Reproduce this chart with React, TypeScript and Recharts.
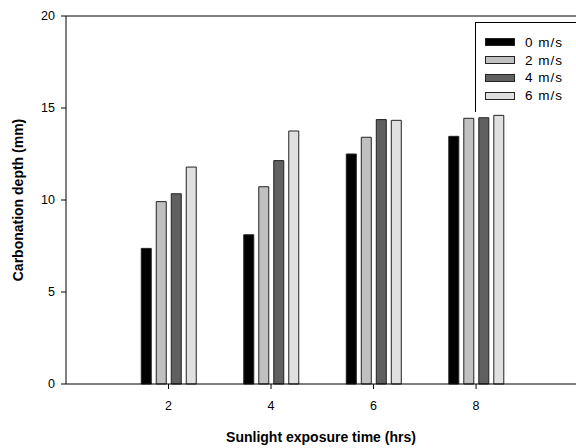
import {
  BarChart,
  Bar,
  XAxis,
  YAxis,
  Legend,
  ReferenceLine,
} from 'recharts';

const hours = [2, 4, 6, 8];
const speed0 = [7.37, 8.11, 12.5, 13.46];
const speed2 = [9.91, 10.72, 13.41, 14.44];
const speed4 = [10.34, 12.14, 14.37, 14.47];
const speed6 = [11.79, 13.75, 14.33, 14.6];
const seriesNames = ['0 m/s', '2 m/s', '4 m/s', '6 m/s'];
const seriesColors = ['#000000', '#c0c0c0', '#606060', '#e0e0e0'];
const yTicks = [0, 5, 10, 15, 20];

const data = hours.map((h, i) => ({
  hours: h,
  s0: speed0[i],
  s2: speed2[i],
  s4: speed4[i],
  s6: speed6[i],
}));

const seriesKeys = ['s0', 's2', 's4', 's6'];
const font = '"Liberation Sans", Arial, sans-serif';

function LegendBox() {
  return (
    <div
      style={{
        borderTop: '1px solid #000',
        borderLeft: '1px solid #000',
        background: '#fff',
        width: 101,
        height: 90,
        boxSizing: 'border-box',
        paddingTop: 10.4,
        paddingLeft: 9,
        fontFamily: font,
        fontSize: 13.5,
        color: '#000',
      }}
    >
      {seriesNames.map((name, i) => (
        <div key={name} style={{ display: 'flex', alignItems: 'center', height: 17.8 }}>
          <span
            style={{
              display: 'inline-block',
              width: 30,
              height: 8,
              background: seriesColors[i],
              border: '1px solid #222',
              boxSizing: 'border-box',
              marginRight: 10,
            }}
          />
          <span style={{ letterSpacing: 1 }}>{name}</span>
        </div>
      ))}
    </div>
  );
}

export default function App() {
  return (
    <div style={{ width: 576, height: 448, overflow: 'hidden' }}>
      <style>{'body { margin: 0; }'}</style>
      <BarChart
        width={576}
        height={448}
        data={data}
        margin={{ top: 16, right: 0, bottom: 0, left: 0 }}
        barSize={10}
        barGap={5}
      >
        <XAxis
          dataKey="hours"
          type="number"
          domain={[0, 9.95]}
          ticks={hours}
          height={64}
          stroke="#000"
          tickSize={5}
          tickMargin={12}
          tick={{ fill: '#000', fontSize: 12.5, fontFamily: font }}
          label={{
            content: (props: any) => {
              const vb = props.viewBox;
              return (
                <text
                  x={vb.x + vb.width / 2}
                  y={vb.y + 53}
                  textAnchor="middle"
                  dominantBaseline="central"
                  fontFamily={font}
                  fontSize={14}
                  fontWeight="bold"
                  fill="#000"
                >
                  Sunlight exposure time (hrs)
                </text>
              );
            },
          }}
        />
        <YAxis
          type="number"
          domain={[0, 20]}
          ticks={yTicks}
          width={66}
          stroke="#000"
          tickSize={5}
          tickMargin={6}
          tick={{ fill: '#000', fontSize: 12.5, fontFamily: font }}
          label={{
            content: (props: any) => {
              const vb = props.viewBox;
              const cx = vb.x + 18;
              const cy = vb.y + vb.height / 2;
              return (
                <text
                  x={cx}
                  y={cy}
                  transform={`rotate(-90 ${cx} ${cy})`}
                  textAnchor="middle"
                  dominantBaseline="central"
                  fontFamily={font}
                  fontSize={14}
                  fontWeight="bold"
                  fill="#000"
                >
                  Carbonation depth (mm)
                </text>
              );
            },
          }}
        />
        <ReferenceLine y={20} stroke="#000" />
        <Legend
          layout="vertical"
          align="center"
          verticalAlign="middle"
          content={() => <LegendBox />}
          wrapperStyle={{ position: 'absolute', left: 475, top: 22, width: 101 }}
        />
        {seriesKeys.map((key, i) => (
          <Bar
            key={key}
            dataKey={key}
            name={seriesNames[i]}
            fill={seriesColors[i]}
            stroke="#222"
            strokeWidth={1}
            isAnimationActive={false}
          />
        ))}
      </BarChart>
    </div>
  );
}
